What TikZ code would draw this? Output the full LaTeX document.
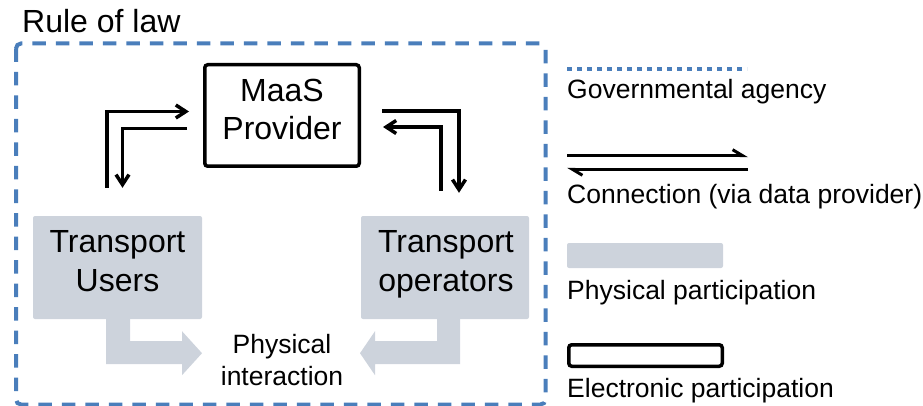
\documentclass[tikz,border=0pt]{standalone}
\usepackage{fontspec}
\setmainfont{Liberation Sans}
\usepackage{xcolor}
\usepackage{tikz}
\usetikzlibrary{calc,arrows.meta}

\definecolor{lawblue}{RGB}{74,126,187}
\definecolor{physgrey}{RGB}{205,211,220}

\tikzset{
  bigtext/.style={font=\fontsize{32}{38.5}\selectfont,align=center,inner sep=0pt},
  keytext/.style={font=\fontsize{26.5}{32}\selectfont,align=center,inner sep=0pt},
  elbox/.style={draw,line width=3.5pt,rounded corners=3pt,inner sep=0pt},
  physbox/.style={fill=physgrey,rounded corners=2pt,inner sep=0pt},
  conn/.style={line width=3.5pt,-{Straight Barb[length=10pt,width=13pt]}},
  harp/.style={line width=3pt,-{Straight Barb[harpoon,length=10pt,width=12pt]}}
}

\begin{document}
\begin{tikzpicture}[x=1pt,y=-1pt]
\useasboundingbox (0,0) rectangle (923,406);

\draw[lawblue,line width=4pt,dash pattern=on 13.5pt off 10pt,rounded corners=5pt]
  (16,43.5) rectangle (545.5,404.5);
\node[bigtext,anchor=base west] (law) at (22,33) {Rule of law};

\node[elbox,minimum width=154.5pt,minimum height=101.5pt] (prov) at (282,115.5) {};
\node[bigtext] (provtext) at (282,109.5) {MaaS\\Provider};
\node[physbox,minimum width=169pt,minimum height=103pt] (users) at (117.5,267.5) {};
\node[bigtext] (userstext) at (117.5,261.2) {Transport\\Users};
\node[physbox,minimum width=168pt,minimum height=103pt] (ops) at (445,267.5) {};
\node[bigtext] (opstext) at (446,264.5) {Transport\\operators};
\node[keytext] (meet) at (282,359.7) {Physical\\interaction};

\fill[physgrey] ([xshift=-11.5pt]users.south) -- ++(0,45) -- ++(76,0) -- ++(0,11)
  -- ++(20,-22) -- ++(-20,-22) -- ++(0,10) -- ++(-52,0) -- ++(0,-22) -- cycle;
\fill[physgrey] ([xshift=15pt]ops.south) -- ++(0,45) -- ++(-85,0) -- ++(0,11)
  -- ++(-15,-22) -- ++(15,-22) -- ++(0,10) -- ++(62,0) -- ++(0,-22) -- cycle;

\draw[conn] ([xshift=-10.5pt,yshift=28pt]users.north) |- ([xshift=-14pt,yshift=4pt]prov.west);
\draw[conn] ([xshift=-16pt,yshift=-12.8pt]prov.west) -| ([xshift=5pt,yshift=28pt]users.north);
\draw[conn] ([xshift=21pt,yshift=4.5pt]prov.east) -| ([xshift=14pt,yshift=23pt]ops.north);
\draw[conn] ([xshift=-4pt,yshift=25pt]ops.north) |- ([xshift=22pt,yshift=-11.5pt]prov.east);

\coordinate (govl) at (567,69);
\coordinate (govr) at (747,69);
\draw[lawblue,line width=3.5pt,dash pattern=on 5pt off 5pt] (govl) -- (govr);
\node[keytext,anchor=base west] (govkey) at (567,98.3) {Governmental agency};
\coordinate (cona) at (567,155.7);
\coordinate (conb) at (748,155.7);
\coordinate (conc) at (748,169.3);
\coordinate (cond) at (567,169.3);
\draw[harp] (cona) -- (conb);
\draw[harp] (conc) -- (cond);
\node[keytext,anchor=base west] (conkey) at (567,204) {Connection (via data provider)};
\node[physbox,minimum width=156pt,minimum height=25pt] (physbar) at (645,255.5) {};
\node[keytext,anchor=base west] (physkey) at (567,299) {Physical participation};
\node[elbox,minimum width=153.5pt,minimum height=21.5pt] (elbar) at (645.5,355.5) {};
\node[keytext,anchor=base west] (elkey) at (567,397.5) {Electronic participation};
\end{tikzpicture}
\end{document}
